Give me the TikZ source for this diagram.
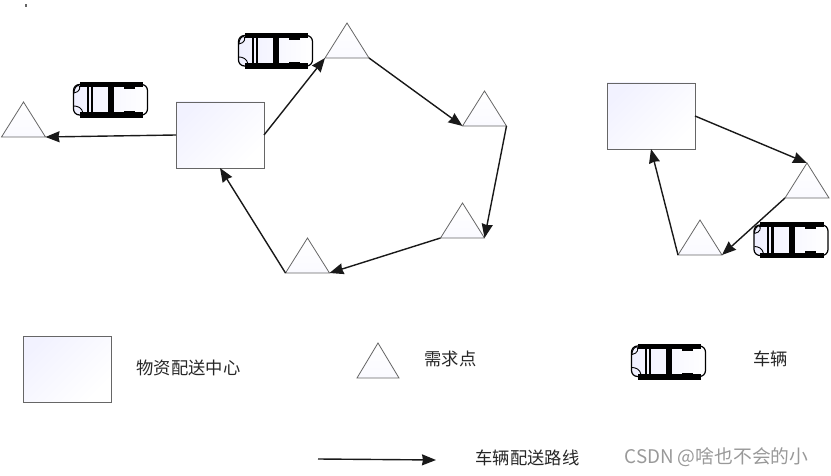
\documentclass[tikz,border=0pt]{standalone}
\usepackage{fontspec}
\usepackage{xcolor}
\setmainfont{Noto Sans CJK SC}
\usetikzlibrary{shapes.geometric,arrows.meta,positioning,calc}

\begin{document}
\begin{tikzpicture}[
    x=1pt,
    y=-1pt,
    line width=1pt,
    >={Stealth[length=14pt,width=11pt,inset=1pt]},
    center/.style={rectangle, draw=black!60, line width=0.9pt, left color=blue!5, right color=white, shading angle=45, minimum width=88pt, minimum height=66pt, inner sep=0pt, outer sep=0pt},
    demand/.style={isosceles triangle, isosceles triangle stretches, shape border rotate=90, draw=black!60, line width=0.8pt, bottom color=blue!2, top color=white, minimum width=44pt, minimum height=35pt, inner sep=0pt, outer sep=0pt, anchor=apex},
    route/.style={->, line width=1.4pt, black!90},
    label/.style={font=\fontsize{17.3pt}{19pt}\selectfont, text=black!85, inner sep=0pt},
    car/.pic={
        \draw [line width=1.2pt, left color=blue!6, right color=white, rounded corners=6pt] (0.5,2.5) rectangle (74.5,33);
        \fill (6.5,0) rectangle (70,5);
        \fill (6.5,30.5) rectangle (70,36);
        \fill (13.5,2) rectangle (15.5,33);
        \fill (17.5,2) rectangle (20,33);
        \fill (35,2) rectangle (41,33);
        \fill (51,3) rectangle (62,7);
        \fill (51,29) rectangle (62,32.5);
        \draw [line width=0.9pt] (5.5,3) .. controls (1,5) and (1,10) .. (1,11);
        \draw [line width=0.9pt] (5.5,3) .. controls (8,5) and (7,10) .. (1,11);
        \draw [line width=0.9pt] (1,24) .. controls (5,24) and (9,26) .. (10,31);
    }
]

% Left route
\node [center] (depot) at (220,135) {};
\node [demand] (far) at (23.5,102) {};
\node [demand] (top) at (347,23) {};
\node [demand] (upper) at (484.5,91) {};
\node [demand] (lower) at (462.5,203) {};
\node [demand] (bottom) at (307.5,238) {};

% Right route
\node [center] (depotb) at (651,116) {};
\node [demand] (rightup) at (807,163) {};
\node [demand] (rightdown) at (700,220) {};

% Vehicles
\pic at (73,82) {car};
\pic at (238,33) {car};
\pic at (753.5,222.5) {car};

% Legend
\node [center] (depotkey) at (67,369) {};
\node [label, right=25pt of depotkey, yshift=1pt] (depottext) {物资配送中心};
\node [demand, minimum width=42pt] (demandkey) at (378,343) {};
\node [label, anchor=west] (demandtext) at (424,359) {需求点};
\pic at (631,343.5) {car};
\node [label, anchor=west] (cartext) at (753,359) {车辆};
\coordinate (keystart) at (318,459);
\coordinate (keyend) at (436,460);
\node [label, anchor=west] (routetext) at (475,458) {车辆配送路线};
\node [label, anchor=west, text=black!40, font=\fontsize{18.8pt}{21pt}\selectfont] (mark) at (624,457) {CSDN @啥也不会的小};

% Speck at the top
\node [fill=black!60, inner sep=0pt, minimum width=1.2pt, minimum height=3pt] (speck) at (26,6) {};

% Connections
\draw [route] (depot.west) -- (far.right corner);
\draw [route] (depot.east) -- (top.left corner);
\draw [route] (top.right corner) -- (upper.left corner);
\draw [route] (upper.right corner) -- (lower.right corner);
\draw [route] (lower.left corner) -- (bottom.right corner);
\draw [route] (bottom.left corner) -- (depot.south);
\draw [route] (depotb.east) -- (rightup.apex);
\draw [route] (rightup.left corner) -- (rightdown.right corner);
\draw [route] (rightdown.left corner) -- (depotb.south);
\draw [route] (keystart) -- (keyend);

\useasboundingbox (0,0) rectangle (831,476);
\end{tikzpicture}
\end{document}
